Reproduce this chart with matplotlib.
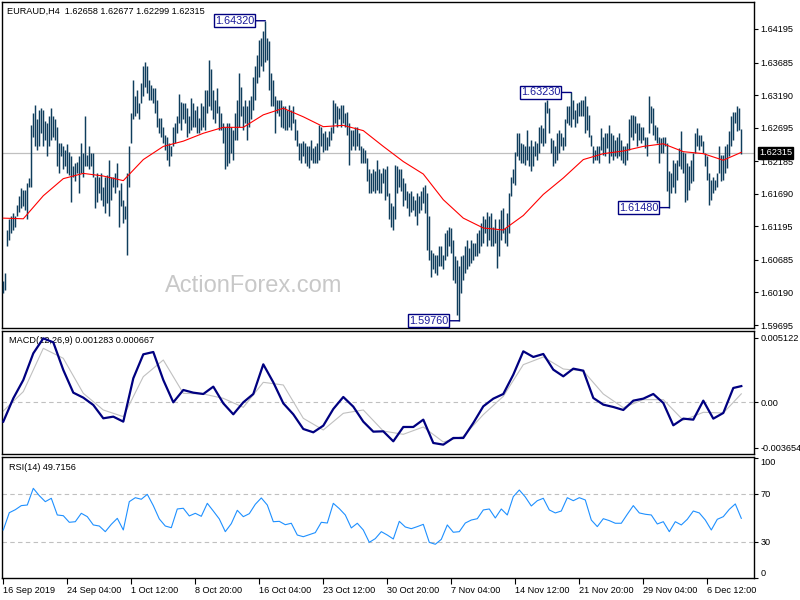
import matplotlib
matplotlib.use("Agg")
import matplotlib.pyplot as plt
import matplotlib.transforms as mtransforms
import numpy as np

plt.rcParams['font.family'] = ['Liberation Sans', 'DejaVu Sans']

symbol_title = "EURAUD,H4  1.62658 1.62677 1.62299 1.62315"
macd_title = "MACD(12,26,9) 0.001283 0.000667"
rsi_title = "RSI(14) 49.7156"
watermark = "ActionForex.com"
last_price = 1.62315

highs = [
    1.6036, 1.6048, 1.6114, 1.6130, 1.6135, 1.6140, 1.6135, 1.6152, 1.6165, 1.6178,
    1.6175, 1.6175, 1.6185, 1.6193, 1.6274, 1.6292, 1.6304, 1.6282, 1.6297, 1.6299,
    1.6297, 1.6279, 1.6276, 1.6287, 1.6299, 1.6287, 1.6282, 1.6271, 1.6246, 1.6246,
    1.6241, 1.6236, 1.6244, 1.6233, 1.6226, 1.6211, 1.6216, 1.6218, 1.6226, 1.6246,
    1.6231, 1.6287, 1.6228, 1.6241, 1.6231, 1.6231, 1.6195, 1.6200, 1.6195, 1.6200,
    1.6180, 1.6195, 1.6198, 1.6221, 1.6195, 1.6195, 1.6200, 1.6216, 1.6175, 1.6185,
    1.6160, 1.6150, 1.6200, 1.6241, 1.6292, 1.6342, 1.6317, 1.6327, 1.6307, 1.6337,
    1.6363, 1.6370, 1.6363, 1.6342, 1.6335, 1.6330, 1.6330, 1.6312, 1.6284, 1.6284,
    1.6271, 1.6259, 1.6256, 1.6246, 1.6241, 1.6271, 1.6276, 1.6287, 1.6320, 1.6309,
    1.6307, 1.6307, 1.6299, 1.6287, 1.6314, 1.6307, 1.6297, 1.6302, 1.6284, 1.6307,
    1.6302, 1.6327, 1.6327, 1.6373, 1.6358, 1.6327, 1.6312, 1.6330, 1.6302, 1.6292,
    1.6276, 1.6271, 1.6276, 1.6276, 1.6271, 1.6266, 1.6292, 1.6312, 1.6353, 1.6332,
    1.6302, 1.6312, 1.6302, 1.6312, 1.6317, 1.6347, 1.6363, 1.6380, 1.6403, 1.6406,
    1.6416, 1.6432, 1.6406, 1.6401, 1.6353, 1.6342, 1.6317, 1.6312, 1.6312, 1.6312,
    1.6302, 1.6302, 1.6297, 1.6304, 1.6297, 1.6302, 1.6282, 1.6266, 1.6246, 1.6246,
    1.6249, 1.6246, 1.6241, 1.6241, 1.6251, 1.6239, 1.6241, 1.6246, 1.6274, 1.6271,
    1.6261, 1.6264, 1.6256, 1.6264, 1.6271, 1.6312, 1.6307, 1.6302, 1.6299, 1.6304,
    1.6304, 1.6292, 1.6294, 1.6276, 1.6266, 1.6266, 1.6271, 1.6271, 1.6261, 1.6241,
    1.6239, 1.6236, 1.6223, 1.6206, 1.6200, 1.6206, 1.6203, 1.6221, 1.6206, 1.6200,
    1.6208, 1.6206, 1.6211, 1.6170, 1.6155, 1.6150, 1.6213, 1.6211, 1.6206, 1.6206,
    1.6193, 1.6185, 1.6173, 1.6170, 1.6173, 1.6165, 1.6160, 1.6170, 1.6165, 1.6173,
    1.6180, 1.6183, 1.6170, 1.6135, 1.6084, 1.6079, 1.6076, 1.6076, 1.6089, 1.6089,
    1.6076, 1.6109, 1.6114, 1.6119, 1.6117, 1.6099, 1.6074, 1.6069, 1.6059, 1.6074,
    1.6076, 1.6089, 1.6099, 1.6087, 1.6099, 1.6094, 1.6094, 1.6109, 1.6114, 1.6124,
    1.6135, 1.6130, 1.6142, 1.6135, 1.6140, 1.6119, 1.6130, 1.6114, 1.6130, 1.6145,
    1.6147, 1.6117, 1.6140, 1.6170, 1.6195, 1.6206, 1.6233, 1.6261, 1.6261, 1.6246,
    1.6244, 1.6241, 1.6266, 1.6241, 1.6251, 1.6241, 1.6249, 1.6246, 1.6271, 1.6274,
    1.6269, 1.6309, 1.6312, 1.6299, 1.6254, 1.6251, 1.6241, 1.6261, 1.6266, 1.6261,
    1.6256, 1.6282, 1.6302, 1.6302, 1.6323, 1.6312, 1.6297, 1.6307, 1.6309, 1.6312,
    1.6312, 1.6317, 1.6302, 1.6289, 1.6259, 1.6241, 1.6236, 1.6241, 1.6241, 1.6269,
    1.6256, 1.6261, 1.6261, 1.6274, 1.6261, 1.6259, 1.6251, 1.6256, 1.6261, 1.6251,
    1.6241, 1.6241, 1.6246, 1.6282, 1.6289, 1.6289, 1.6287, 1.6276, 1.6276, 1.6271,
    1.6271, 1.6256, 1.6256, 1.6317, 1.6302, 1.6299, 1.6274, 1.6271, 1.6256, 1.6254,
    1.6256, 1.6256, 1.6246, 1.6203, 1.6200, 1.6221, 1.6216, 1.6221, 1.6239, 1.6264,
    1.6233, 1.6231, 1.6216, 1.6211, 1.6221, 1.6231, 1.6261, 1.6269, 1.6259, 1.6259,
    1.6249, 1.6231, 1.6226, 1.6200, 1.6190, 1.6195, 1.6190, 1.6200, 1.6241, 1.6228,
    1.6228, 1.6241, 1.6244, 1.6264, 1.6287, 1.6294, 1.6294, 1.6302, 1.6299, 1.62677,
]

lows = [
    1.6018, 1.6023, 1.6089, 1.6099, 1.6109, 1.6114, 1.6119, 1.6135, 1.6142, 1.6147,
    1.6150, 1.6145, 1.6130, 1.6180, 1.6180, 1.6256, 1.6241, 1.6236, 1.6241, 1.6261,
    1.6241, 1.6251, 1.6226, 1.6241, 1.6251, 1.6256, 1.6251, 1.6211, 1.6200, 1.6226,
    1.6206, 1.6211, 1.6200, 1.6198, 1.6157, 1.6195, 1.6188, 1.6200, 1.6170, 1.6200,
    1.6195, 1.6211, 1.6211, 1.6206, 1.6211, 1.6195, 1.6147, 1.6157, 1.6170, 1.6160,
    1.6150, 1.6140, 1.6155, 1.6135, 1.6160, 1.6180, 1.6170, 1.6180, 1.6119, 1.6150,
    1.6124, 1.6130, 1.6076, 1.6180, 1.6246, 1.6282, 1.6287, 1.6292, 1.6282, 1.6307,
    1.6317, 1.6332, 1.6322, 1.6312, 1.6312, 1.6307, 1.6292, 1.6271, 1.6261, 1.6256,
    1.6246, 1.6236, 1.6221, 1.6211, 1.6226, 1.6241, 1.6246, 1.6261, 1.6276, 1.6266,
    1.6282, 1.6276, 1.6256, 1.6261, 1.6266, 1.6271, 1.6271, 1.6261, 1.6261, 1.6266,
    1.6271, 1.6266, 1.6292, 1.6302, 1.6297, 1.6282, 1.6276, 1.6292, 1.6266, 1.6266,
    1.6246, 1.6206, 1.6211, 1.6216, 1.6231, 1.6221, 1.6251, 1.6251, 1.6271, 1.6287,
    1.6266, 1.6276, 1.6251, 1.6271, 1.6282, 1.6297, 1.6312, 1.6337, 1.6347, 1.6363,
    1.6355, 1.6370, 1.6373, 1.6327, 1.6302, 1.6302, 1.6261, 1.6292, 1.6287, 1.6271,
    1.6269, 1.6266, 1.6266, 1.6271, 1.6266, 1.6276, 1.6251, 1.6241, 1.6221, 1.6216,
    1.6226, 1.6216, 1.6211, 1.6208, 1.6221, 1.6216, 1.6216, 1.6216, 1.6221, 1.6241,
    1.6233, 1.6236, 1.6236, 1.6241, 1.6251, 1.6261, 1.6276, 1.6271, 1.6282, 1.6271,
    1.6276, 1.6271, 1.6259, 1.6213, 1.6236, 1.6241, 1.6236, 1.6241, 1.6236, 1.6216,
    1.6216, 1.6216, 1.6188, 1.6170, 1.6170, 1.6173, 1.6170, 1.6175, 1.6170, 1.6170,
    1.6185, 1.6160, 1.6165, 1.6130, 1.6119, 1.6114, 1.6130, 1.6170, 1.6180, 1.6173,
    1.6150, 1.6160, 1.6147, 1.6135, 1.6142, 1.6145, 1.6135, 1.6122, 1.6140, 1.6145,
    1.6155, 1.6140, 1.6084, 1.6069, 1.6043, 1.6054, 1.6048, 1.6046, 1.6059, 1.6059,
    1.6054, 1.6069, 1.6074, 1.6089, 1.6079, 1.6038, 1.6033, 1.5985, 1.5976, 1.6018,
    1.6038, 1.6048, 1.6054, 1.6059, 1.6064, 1.6069, 1.6074, 1.6074, 1.6079, 1.6089,
    1.6094, 1.6109, 1.6089, 1.6099, 1.6089, 1.6089, 1.6094, 1.6056, 1.6074, 1.6099,
    1.6109, 1.6094, 1.6089, 1.6109, 1.6165, 1.6185, 1.6183, 1.6226, 1.6221, 1.6216,
    1.6216, 1.6213, 1.6221, 1.6211, 1.6203, 1.6211, 1.6226, 1.6221, 1.6231, 1.6246,
    1.6241, 1.6246, 1.6292, 1.6261, 1.6231, 1.6211, 1.6216, 1.6221, 1.6231, 1.6241,
    1.6236, 1.6241, 1.6276, 1.6274, 1.6271, 1.6282, 1.6271, 1.6276, 1.6287, 1.6287,
    1.6287, 1.6261, 1.6266, 1.6256, 1.6241, 1.6216, 1.6221, 1.6221, 1.6216, 1.6236,
    1.6228, 1.6226, 1.6239, 1.6216, 1.6226, 1.6221, 1.6226, 1.6223, 1.6226, 1.6221,
    1.6216, 1.6213, 1.6221, 1.6236, 1.6256, 1.6251, 1.6261, 1.6241, 1.6251, 1.6246,
    1.6251, 1.6239, 1.6226, 1.6261, 1.6276, 1.6259, 1.6251, 1.6246, 1.6216, 1.6231,
    1.6231, 1.6241, 1.6173, 1.6148, 1.6170, 1.6180, 1.6170, 1.6190, 1.6211, 1.6206,
    1.6200, 1.6157, 1.6160, 1.6175, 1.6185, 1.6188, 1.6231, 1.6241, 1.6236, 1.6241,
    1.6231, 1.6211, 1.6190, 1.6152, 1.6160, 1.6170, 1.6175, 1.6180, 1.6200, 1.6188,
    1.6190, 1.6200, 1.6208, 1.6226, 1.6241, 1.6251, 1.6276, 1.6264, 1.6266, 1.62299,
]

# moving average, read every 10 bars (plus the last bar)
ma_values = [
    1.6132, 1.6131, 1.6166, 1.6192, 1.6200, 1.6196, 1.6189, 1.6221, 1.6241, 1.6249,
    1.6261, 1.6270, 1.6270, 1.6289, 1.6299, 1.6286, 1.6271, 1.6273, 1.6265, 1.6241,
    1.6218, 1.6199, 1.6160, 1.6132, 1.6117, 1.6114, 1.6136, 1.6168, 1.6193, 1.6221,
    1.6230, 1.6234, 1.6241, 1.6245, 1.6233, 1.6230, 1.6220, 1.6232,
]

# MACD main line, read every 5 bars (plus the last bar)
macd_values = [
    -0.001552, 0.000309, 0.001772, 0.003899, 0.005095, 0.004776, 0.002569, 0.000761,
    0.000362, -0.000223, -0.001286, -0.001153, -0.001552, 0.001905, 0.003819, 0.004005,
    0.001772, -0.000010, 0.000974, 0.000761, 0.000655, 0.001240, -0.000090, -0.000967,
    -0.000010, 0.000655, 0.003021, 0.001586, -0.000090, -0.000967, -0.002137, -0.002403,
    -0.001871, -0.000542, 0.000416, -0.000356, -0.001552, -0.002350,
    -0.002323, -0.003121, -0.001977, -0.001977, -0.001392, -0.003254, -0.003387, -0.002855,
    -0.002855, -0.001658, -0.000329, 0.000283, 0.000655, 0.002197, 0.004059, 0.003607,
    0.003846, 0.002596, 0.002064, 0.002676, 0.002516, 0.000336, -0.000196, -0.000382,
    -0.000621, 0.000123, 0.000283, 0.000655, -0.000063, -0.001844, -0.001312, -0.001392,
    0.000123, -0.001312, -0.000860, 0.001134, 0.001283,
]

# MACD signal line, read every 10 bars (plus the last bar)
signal_values = [
    -0.000701, 0.000841, 0.004298, 0.003500, 0.000708, -0.000621, -0.001153, 0.002038,
    0.003367, 0.000708, 0.000655, 0.000309, -0.000409, 0.001586, 0.001373, -0.001286,
    -0.002217, -0.000887, -0.000621,
    -0.002300, -0.002562, -0.001977, -0.003174, -0.002722, -0.000993, 0.000469, 0.002995,
    0.003607, 0.002649, 0.002490, 0.000655, -0.000435, 0.000203, 0.000203, -0.001445,
    -0.000807, -0.000860, 0.000667,
]

# RSI(14), read every 3 bars
rsi_values = [
    40.0, 54.4, 56.9, 60.3, 60.8, 74.7, 68.6, 63.6, 66.4, 52.5,
    51.9, 46.4, 46.9, 53.9, 51.1, 44.2, 43.3, 38.6, 44.7, 49.7,
    40.0, 63.6, 66.9, 65.6, 69.7, 60.3, 49.2, 43.3, 41.9, 57.5,
    58.1, 51.7, 53.9, 51.4, 62.2, 55.8, 49.2, 38.6, 45.3, 56.4,
    51.1, 53.6, 61.4, 66.7, 60.8, 46.9, 47.2, 44.4, 45.6, 35.8,
    34.4, 36.1, 37.8, 46.4, 45.8, 62.2, 57.8, 52.5, 41.7, 45.6,
    40.0, 29.7, 32.8, 38.6, 35.8, 32.5, 47.2, 42.5, 41.1, 42.8,
    44.7, 29.7, 28.1, 32.2, 44.2, 38.1, 38.6, 45.8, 48.3, 49.4,
    56.7, 57.5, 50.0, 57.5, 52.5, 67.8, 73.3, 67.5, 60.0, 64.4,
    66.4, 56.7, 54.2, 55.8, 66.9, 64.4, 66.9, 65.0, 48.3, 42.8,
    49.4, 47.8, 45.6, 45.6, 53.1, 60.3, 54.2, 53.1, 52.5, 45.0,
    46.9, 38.6, 46.9, 44.2, 48.9, 55.8, 54.2, 48.3, 40.0, 48.9,
    51.1, 57.2, 61.7, 49.7156,
]

price_ticks = [1.64195, 1.63685, 1.63190, 1.62695, 1.62185, 1.61690, 1.61195, 1.60685, 1.60190, 1.59695]
macd_ticks = [-0.003654, 0.0, 0.005122]
macd_tick_labels = ["-0.003654", "0.00", "0.005122"]
rsi_ticks = [0, 30, 70, 100]

date_labels = ["16 Sep 2019", "24 Sep 04:00", "1 Oct 12:00", "8 Oct 20:00", "16 Oct 04:00",
               "23 Oct 12:00", "30 Oct 20:00", "7 Nov 04:00", "14 Nov 12:00", "21 Nov 20:00",
               "29 Nov 04:00", "6 Dec 12:00"]
date_bars = [0, 32, 64, 96, 128, 160, 192, 224, 256, 288, 320, 352]

callouts = [(131, 1.64320, "1.64320"), (284, 1.63230, "1.63230"),
            (333, 1.61480, "1.61480"), (228, 1.59760, "1.59760")]

# ---------------------------------------------------------------
bars = np.arange(len(highs))
last = len(highs) - 1
ma_x = np.append(np.arange(0, 361, 10), last)
macd_x = np.append(np.arange(0, 366, 5), last)
sig_x = np.append(np.arange(0, 361, 10), last)
rsi_x = np.arange(0, last + 1, 3)

BAR_C = '#0f3d5c'
FS = 6.6
W, H = 800, 600

fig = plt.figure(figsize=(8, 6), dpi=100)
fig.patch.set_facecolor('white')

def px_axes(top, bottom):
    return fig.add_axes([2 / W, 1 - bottom / H, 752 / W, (bottom - top) / H])

ax1 = px_axes(2, 328)
ax2 = px_axes(331, 454)
ax3 = px_axes(457, 578)

xlim = (-0.65, 375.35)
for ax in (ax1, ax2, ax3):
    ax.set_xlim(*xlim)
    for s in ax.spines.values():
        s.set_linewidth(1.0)
        s.set_color('black')
    ax.yaxis.tick_right()
    ax.tick_params(axis='y', which='both', direction='out', length=3, width=0.8,
                   labelsize=FS, pad=1.5, colors='black')
    ax.tick_params(axis='x', which='both', bottom=False, labelbottom=False)

# ---- price panel
ax1.set_ylim(1.59650, 1.64605)
ax1.axhline(last_price, color='#c0c0c0', lw=0.9, zorder=1)
ax1.text(0.335, 0.129, watermark, transform=ax1.transAxes, fontsize=17,
         color='#c8c8c8', ha='center', va='center', zorder=0)
ax1.vlines(bars, lows, highs, color=BAR_C, lw=1.05, zorder=3)
ax1.plot(ma_x, ma_values, color='#ff0000', lw=0.8, zorder=4)
ax1.set_yticks(price_ticks)
ax1.set_yticklabels([f"{v:.5f}" for v in price_ticks])
for b, p, t in callouts:
    ax1.annotate(t, xy=(b, p), xytext=(-8, 0), textcoords='offset points',
                 ha='right', va='center', fontsize=7.8, color='#1a1a9a',
                 bbox=dict(boxstyle='square,pad=0.12', fc='white', ec='#000080', lw=1.0),
                 arrowprops=dict(arrowstyle='-', color='#000080', lw=1.0,
                                 shrinkA=0, shrinkB=0), zorder=6)
trans1 = mtransforms.blended_transform_factory(ax1.transAxes, ax1.transData)
ax1.text(1.0066, last_price, f"{last_price:.5f}", transform=trans1, ha='left', va='center',
         fontsize=FS, color='white', zorder=10, clip_on=False,
         bbox=dict(boxstyle='square,pad=0.15', fc='black', ec='black'))
fig.text(7 / W, 1 - 11 / H, symbol_title, fontsize=FS, ha='left', va='center')

# ---- MACD panel
ax2.set_ylim(-0.004133, 0.005680)
ax2.axhline(0, color='#c0c0c0', lw=0.8, dashes=(4, 3), zorder=1)
ax2.plot(sig_x, signal_values, color='#c0c0c0', lw=0.8, zorder=2)
ax2.plot(macd_x, macd_values, color='#000080', lw=1.6, zorder=3)
ax2.set_yticks(macd_ticks)
ax2.set_yticklabels(macd_tick_labels)
ax2.text(7 / 752, 1 - 9 / 123, macd_title, transform=ax2.transAxes, fontsize=FS,
         ha='left', va='center', zorder=1)

# ---- RSI panel
ax3.set_ylim(0, 100.8)
for lvl in (30, 70):
    ax3.axhline(lvl, color='#c0c0c0', lw=0.8, dashes=(4, 3), zorder=1)
ax3.plot(rsi_x, rsi_values, color='#1e90ff', lw=0.8, zorder=3)
ax3.set_yticks(rsi_ticks)
ax3.set_yticklabels([str(v) for v in rsi_ticks])
tl = ax3.get_yticklabels()
tl[0].set_va('bottom')
tl[-1].set_va('top')
ax3.text(7 / 752, 1 - 10 / 121, rsi_title, transform=ax3.transAxes, fontsize=FS,
         ha='left', va='center', zorder=1)

ax3.tick_params(axis='x', which='both', bottom=True, labelbottom=True, direction='out',
                length=4, width=0.8, labelsize=FS, pad=1.5)
ax3.set_xticks(date_bars)
ax3.set_xticklabels(date_labels)
for lb in ax3.get_xticklabels():
    lb.set_ha('left')

fig.savefig('out.png', dpi=100, facecolor='white')
